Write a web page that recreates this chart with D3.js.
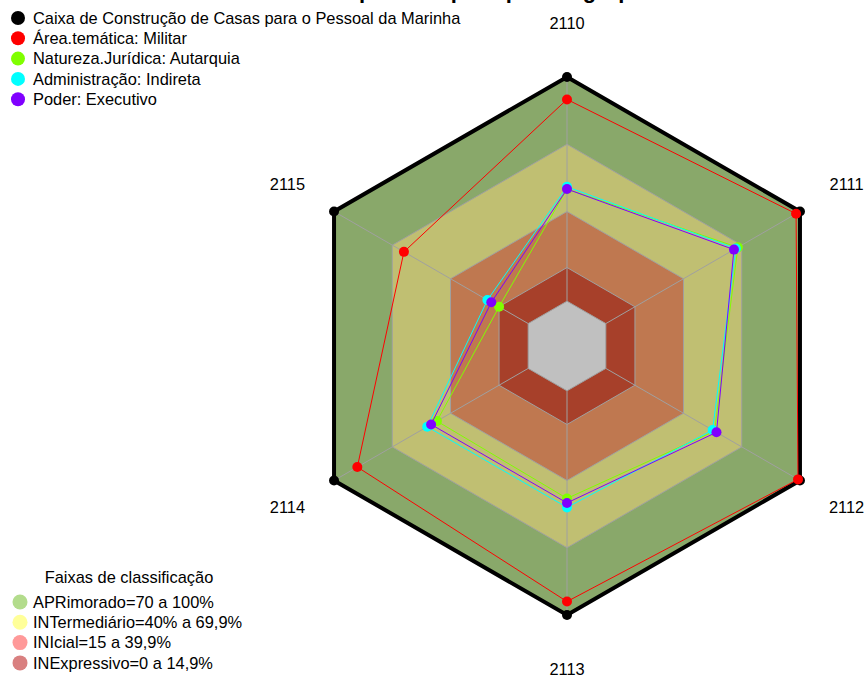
<!DOCTYPE html>
<html>
<head>
<meta charset="utf-8">
<script src="https://cdn.jsdelivr.net/npm/d3@7"></script>
<style>
  body { margin: 0; background: #fff; }
  text { font-family: "Liberation Sans", Arial, sans-serif; fill: #000; }
</style>
</head>
<body>
<div id="chart"></div>
<script>
// axes of the radar (clockwise from top)
var axes = ['2110', '2111', '2112', '2113', '2114', '2115'];

// series values, same order as axes
var seriesNames = [
  'Caixa de Construção de Casas para o Pessoal da Marinha',
  'Área.temática: Militar',
  'Natureza.Jurídica: Autarquia',
  'Administração: Indireta',
  'Poder: Executivo'
];
var seriesColors = ['#000000', '#ff0000', '#80ff00', '#00ffff', '#8000ff'];
var orgao = [100, 100, 100, 100, 100, 100];
var militar = [90, 98, 99, 94, 88, 64];
var autarquia = [50, 68, 56, 48, 47, 15];
var indireta = [51, 67, 55, 52, 52, 21];
var executivo = [50, 66, 57, 50, 50, 19];
var seriesValues = [orgao, militar, autarquia, indireta, executivo];

// classification bands
var bandNames = [
  'APRimorado=70 a 100%',
  'INTermediário=40% a 69,9%',
  'INIcial=15 a 39,9%',
  'INExpressivo=0 a 14,9%'
];
var bandLimits = [100, 70, 40, 15, 0];
var bandFills = ['#89a86a', '#c0bf72', '#bf7850', '#a7402a', '#c0c0c0'];
var bandLegendColors = ['#b3dc8c', '#ffff99', '#ff9999', '#d98080'];

var width = 867, height = 680;
var cx = 567, cy = 346, R = 269;
var fs = '16.4px';

var svg = d3.select('#chart').append('svg')
  .attr('width', width)
  .attr('height', height);

// radial scale, center sits below zero like fmsb
var r = d3.scaleLinear().domain([-20, 100]).range([0, R]);
var angle = d3.scalePoint().domain(axes).range([0, 2 * Math.PI * 5 / 6]);

function pt (axis, v) {
  var a = angle(axis) - Math.PI / 2;
  return [cx + r(v) * Math.cos(a), cy + r(v) * Math.sin(a)];
}

function hexPath (v) {
  return 'M' + axes.map(function (a) { return pt(a, v).join(','); }).join('L') + 'Z';
}

// title (cut at top of the picture, as in the original)
svg.append('text')
  .attr('x', 510)
  .attr('y', -2)
  .attr('text-anchor', 'middle')
  .style('font-size', '22px')
  .style('font-weight', 'bold')
  .text('Comparativo por tipo de agrupamento');

// bands
var g = svg.append('g');
g.selectAll('path.band')
  .data(bandLimits)
  .enter().append('path')
  .attr('class', 'band')
  .attr('d', function (d) { return hexPath(d); })
  .attr('fill', function (d, i) { return bandFills[i]; })
  .attr('stroke', '#a0a0a0')
  .attr('stroke-width', 1);

// spokes
g.selectAll('line.spoke')
  .data(axes)
  .enter().append('line')
  .attr('x1', function (d) { return pt(d, 0)[0]; })
  .attr('y1', function (d) { return pt(d, 0)[1]; })
  .attr('x2', function (d) { return pt(d, 100)[0]; })
  .attr('y2', function (d) { return pt(d, 100)[1]; })
  .attr('stroke', '#a0a0a0')
  .attr('stroke-width', 1);

// series
seriesValues.forEach(function (vals, si) {
  var pts = axes.map(function (a, i) { return pt(a, vals[i]); });
  svg.append('path')
    .attr('d', 'M' + pts.map(function (p) { return p.join(','); }).join('L') + 'Z')
    .attr('fill', 'none')
    .attr('stroke', seriesColors[si])
    .attr('stroke-width', si === 0 ? 4 : 1);
  svg.selectAll('circle.s' + si)
    .data(pts)
    .enter().append('circle')
    .attr('class', 's' + si)
    .attr('cx', function (d) { return d[0]; })
    .attr('cy', function (d) { return d[1]; })
    .attr('r', 5)
    .attr('fill', seriesColors[si]);
});

// axis labels
svg.selectAll('text.axis')
  .data(axes)
  .enter().append('text')
  .attr('class', 'axis')
  .attr('x', function (d) { return pt(d, 124)[0]; })
  .attr('y', function (d) { return pt(d, 124)[1]; })
  .attr('text-anchor', 'middle')
  .attr('dy', '0.35em')
  .style('font-size', fs)
  .text(function (d) { return d; });

// top legend
var leg = svg.append('g');
seriesNames.forEach(function (name, i) {
  var y = 18 + i * 20.3;
  leg.append('circle').attr('cx', 18).attr('cy', y).attr('r', 7).attr('fill', seriesColors[i]);
  leg.append('text').attr('x', 33).attr('y', y).attr('dy', '0.35em')
    .style('font-size', fs).text(name);
});

// bottom legend
var leg2 = svg.append('g');
leg2.append('text').attr('x', 129).attr('y', 577).attr('dy', '0.35em')
  .attr('text-anchor', 'middle').style('font-size', fs).text('Faixas de classificação');
bandNames.forEach(function (name, i) {
  var y = 602 + i * 20.3;
  leg2.append('circle').attr('cx', 20).attr('cy', y).attr('r', 7.5).attr('fill', bandLegendColors[i]);
  leg2.append('text').attr('x', 33).attr('y', y).attr('dy', '0.35em')
    .style('font-size', fs).text(name);
});
</script>
</body>
</html>
